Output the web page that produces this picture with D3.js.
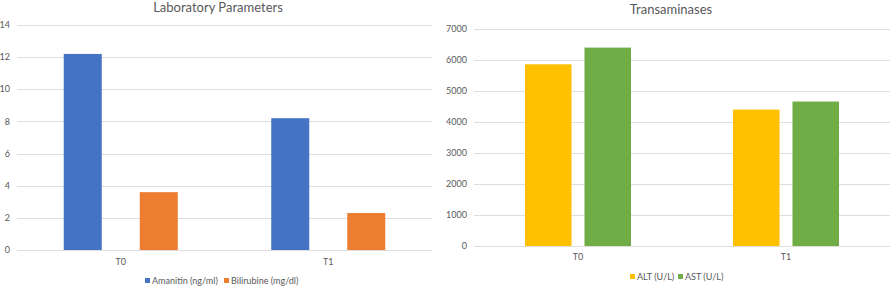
<!DOCTYPE html>
<html><head><meta charset="utf-8">
<script src="https://cdn.jsdelivr.net/npm/d3@7"></script>
<style>
body{margin:0;background:#fff;}
svg{display:block;font-family:Lato,"Open Sans",sans-serif;}
</style></head>
<body>
<svg id="c" width="891" height="286"></svg>
<script>
const categories = ["T0", "T1"];
// Left chart
const labSeries = ["Amanitin (ng/ml)", "Bilirubine (mg/dl)"];
const amanitin = [12.2, 8.2];
const bilirubine = [3.6, 2.3];
const labTicks = [0, 2, 4, 6, 8, 10, 12, 14];
// Right chart
const transSeries = ["ALT (U/L)", "AST (U/L)"];
const alt = [5860, 4400];
const ast = [6400, 4660];
const transTicks = [0, 1000, 2000, 3000, 4000, 5000, 6000, 7000];

const svg = d3.select("#c");
const textCol = "#595959", gridCol = "#dedede";

function drawChart(cfg) {
  const g = svg.append("g");
  const x = d3.scaleBand().domain(categories).range([cfg.x0, cfg.x1]);
  const xs = d3.scaleBand().domain(cfg.series).range([0, x.bandwidth()])
    .paddingInner(cfg.pi).paddingOuter(cfg.po);
  const y = d3.scaleLinear().domain([0, cfg.max]).range([cfg.yb, cfg.yt]);

  // gridlines
  g.selectAll("line.grid").data(cfg.ticks).enter().append("line")
    .attr("x1", cfg.x0).attr("x2", cfg.x1)
    .attr("y1", d => Math.round(y(d)) + 0.5).attr("y2", d => Math.round(y(d)) + 0.5)
    .attr("stroke", gridCol).attr("stroke-width", 1);

  // y tick labels
  g.selectAll("text.yt").data(cfg.ticks).enter().append("text")
    .attr("x", cfg.labX).attr("y", d => y(d)).attr("dy", "0.35em")
    .attr("text-anchor", "end").attr("font-size", 9).attr("fill", textCol)
    .text(d => d);

  // bars
  const data = [];
  categories.forEach((c, i) => cfg.series.forEach((s, j) => data.push({c, s, v: cfg.values[j][i], col: cfg.colors[j]})));
  g.selectAll("rect.bar").data(data).enter().append("rect")
    .attr("x", d => x(d.c) + xs(d.s)).attr("width", xs.bandwidth())
    .attr("y", d => y(d.v)).attr("height", d => y(0) - y(d.v))
    .attr("fill", d => d.col);

  // category labels
  g.selectAll("text.cat").data(categories).enter().append("text")
    .attr("x", d => x(d) + x.bandwidth() / 2).attr("y", cfg.catY).attr("dy", "0.35em")
    .attr("text-anchor", "middle").attr("font-size", 9).attr("fill", textCol)
    .text(d => d);

  // title
  g.append("text").attr("x", cfg.titleX).attr("y", cfg.titleY)
    .attr("text-anchor", "middle").attr("font-size", 13).attr("fill", textCol)
    .text(cfg.title);

  // legend
  const lg = g.append("g");
  cfg.series.forEach((s, j) => {
    lg.append("rect").attr("x", cfg.legX[j]).attr("y", cfg.legY - 3)
      .attr("width", 5).attr("height", 5).attr("fill", cfg.colors[j]);
    lg.append("text").attr("x", cfg.legX[j] + 7).attr("y", cfg.legY).attr("dy", "0.35em")
      .attr("font-size", 9).attr("fill", textCol).text(s);
  });
}

drawChart({
  title: "Laboratory Parameters", series: labSeries, values: [amanitin, bilirubine],
  colors: ["#4472C4", "#ED7D31"], ticks: labTicks, max: 14,
  x0: 17, x1: 432, yb: 250, yt: 25, pi: 0.5, po: 0.615,
  labX: 10, catY: 262, titleX: 218, titleY: 12, legX: [145, 224], legY: 281
});
drawChart({
  title: "Transaminases", series: transSeries, values: [alt, ast],
  colors: ["#FFC000", "#70AD47"], ticks: transTicks, max: 7000,
  x0: 474, x1: 890, yb: 246, yt: 29, pi: 0.218, po: 0.857,
  labX: 467, catY: 257, titleX: 671, titleY: 14, legX: [630, 678], legY: 277
});
</script>
</body></html>
